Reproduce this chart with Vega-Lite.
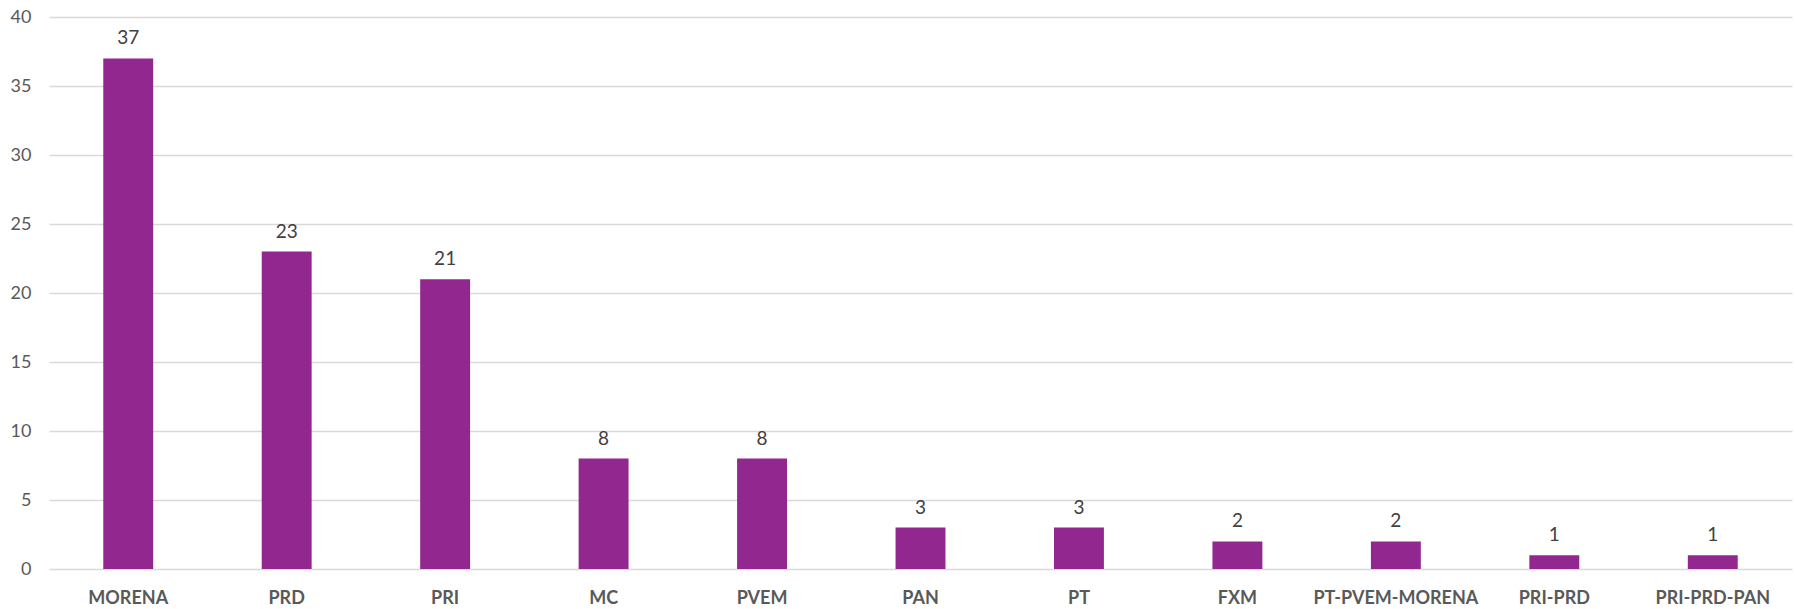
{
  "$schema": "https://vega.github.io/schema/vega-lite/v6.json",
  "autosize": "none",
  "width": 1743,
  "height": 552,
  "padding": {"left": 49, "top": 17, "right": 4, "bottom": 40},
  "background": "#ffffff",
  "data": {"values": [
    {"partido": "MORENA", "n": 37},
    {"partido": "PRD", "n": 23},
    {"partido": "PRI", "n": 21},
    {"partido": "MC", "n": 8},
    {"partido": "PVEM", "n": 8},
    {"partido": "PAN", "n": 3},
    {"partido": "PT", "n": 3},
    {"partido": "FXM", "n": 2},
    {"partido": "PT-PVEM-MORENA", "n": 2},
    {"partido": "PRI-PRD", "n": 1},
    {"partido": "PRI-PRD-PAN", "n": 1}
  ]},
  "config": {"view": {"stroke": null}, "font": "Lato"},
  "encoding": {
    "x": {"field": "partido", "type": "nominal", "sort": null,
      "scale": {"paddingInner": 0.685, "paddingOuter": 0.3425},
      "axis": {"title": null, "labelAngle": 0, "domain": false, "ticks": false,
        "labelFont": "Lato", "labelFontWeight": "bold", "labelFontSize": 18, "labelColor": "#595959", "labelPadding": 20}},
    "y": {"field": "n", "type": "quantitative",
      "scale": {"domain": [0, 40]},
      "axis": {"title": null, "values": [0,5,10,15,20,25,30,35,40], "domain": false, "ticks": false,
        "labelFont": "Lato", "labelFontSize": 18, "labelColor": "#595959", "labelPadding": 18,
        "gridColor": "#d9d9d9", "gridWidth": 1.5}}
  },
  "layer": [
    {"mark": {"type": "bar", "color": "#92278F"}},
    {"mark": {"type": "text", "baseline": "bottom", "dy": -10, "fontSize": 19, "color": "#404040", "font": "Lato"},
      "encoding": {"text": {"field": "n"}}}
  ]
}
